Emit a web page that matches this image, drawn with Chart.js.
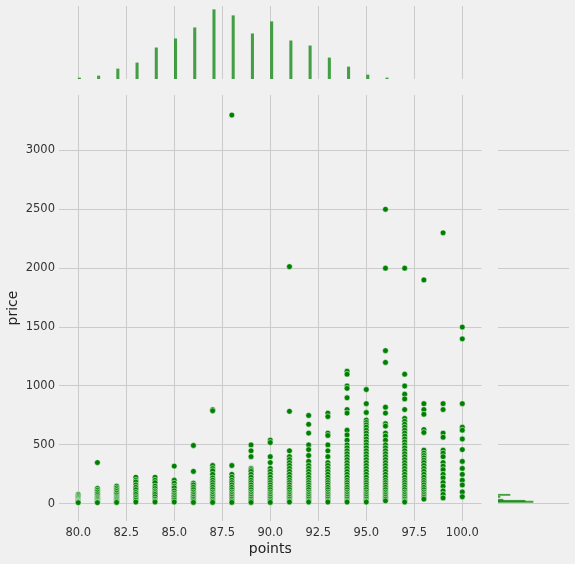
<!DOCTYPE html>
<html>
<head>
<meta charset="utf-8">
<script src="https://cdn.jsdelivr.net/npm/chart.js@4/dist/chart.umd.min.js"></script>
<style>
  html, body { margin: 0; padding: 0; background: #f0f0f0; }
  body { width: 575px; height: 564px; position: relative; overflow: hidden; }
  .box { position: absolute; }
</style>
</head>
<body>
<div class="box" style="left:0;top:0;width:575px;height:564px"><canvas id="mainChart"></canvas></div>
<div class="box" style="left:59px;top:6px;width:423px;height:73px"><canvas id="topChart"></canvas></div>
<div class="box" style="left:498px;top:95px;width:71px;height:426px"><canvas id="rightChart"></canvas></div>
<script>
// tick labels
const xTicks = [80, 82.5, 85, 87.5, 90, 92.5, 95, 97.5, 100];
const yTicks = [0, 500, 1000, 1500, 2000, 2500, 3000];

// prices seen for each points score
const points = [80, 81, 82, 83, 84, 85, 86, 87, 88, 89, 90, 91, 92, 93, 94, 95, 96, 97, 98, 99, 100];
const prices = [
  [80, 70, 60, 50, 40, 30, 25, 20, 15, 10],
  [350, 130, 115, 100, 85, 70, 55, 45, 35, 25, 15, 10],
  [150, 135, 120, 105, 90, 75, 60, 50, 40, 30, 20, 12],
  [225, 200, 185, 160, 140, 120, 97, 80, 60, 45, 30, 15],
  [225, 200, 180, 150, 130, 110, 95, 80, 60, 40, 25, 15],
  [320, 200, 175, 150, 135, 110, 90, 75, 60, 45, 30, 15],
  [495, 275, 175, 160, 140, 120, 100, 85, 70, 55, 40, 25, 12],
  [800, 790, 325, 300, 280, 250, 220, 200, 180, 160, 140, 120, 100, 85, 70, 55, 40, 25, 12],
  [3300, 325, 250, 225, 200, 180, 160, 140, 120, 100, 85, 70, 55, 40, 25, 12],
  [500, 450, 400, 300, 290, 275, 250, 225, 200, 180, 160, 140, 120, 100, 85, 70, 55, 40, 25, 12],
  [540, 520, 400, 350, 300, 275, 250, 225, 200, 180, 160, 140, 120, 100, 85, 70, 55, 40, 25, 12],
  [2013, 785, 450, 400, 375, 350, 325, 300, 275, 250, 225, 200, 180, 160, 140, 120, 100, 85, 70, 55, 40, 25, 15],
  [750, 675, 600, 500, 460, 410, 360, 325, 300, 275, 250, 225, 200, 180, 160, 140, 120, 100, 85, 70, 55, 40, 25, 15],
  [770, 740, 600, 580, 500, 450, 400, 350, 325, 300, 275, 250, 225, 200, 180, 160, 140, 120, 100, 85, 70, 55, 40, 25, 15],
  [1125, 1100, 1000, 980, 900, 800, 770, 625, 585, 540, 500, 475, 450, 425, 400, 375, 350, 325, 300, 275, 250, 225, 200, 180, 160, 140, 120, 100, 85, 70, 55, 40, 25, 15],
  [970, 850, 775, 710, 690, 670, 650, 625, 600, 575, 550, 525, 500, 475, 450, 425, 400, 375, 350, 325, 300, 275, 250, 225, 200, 180, 160, 140, 120, 100, 85, 70, 55, 40, 25, 15],
  [2500, 2000, 1300, 1200, 820, 770, 680, 660, 600, 575, 540, 500, 475, 450, 425, 400, 375, 350, 325, 300, 275, 250, 225, 200, 180, 160, 140, 120, 100, 85, 70, 55, 40, 25],
  [2000, 1100, 1000, 930, 890, 800, 725, 700, 675, 650, 625, 600, 575, 550, 525, 500, 475, 450, 425, 400, 375, 350, 325, 300, 275, 250, 225, 200, 180, 160, 140, 120, 100, 85, 70, 55, 40, 25, 15],
  [1900, 850, 800, 760, 630, 605, 455, 430, 410, 390, 370, 350, 325, 300, 275, 250, 225, 200, 180, 160, 140, 120, 100, 85, 70, 55, 40],
  [2300, 850, 800, 600, 565, 455, 430, 400, 350, 320, 290, 250, 220, 180, 150, 110, 80, 50],
  [1500, 1400, 850, 650, 625, 550, 460, 360, 300, 250, 200, 160, 100, 60]
];

// marginal histograms
const pointBins = [80, 81, 82, 83, 84, 85, 86, 87, 88, 89, 90, 91, 92, 93, 94, 95, 96];
const pointCounts = [3, 9, 30, 48, 93, 120, 153, 207, 189, 135, 171, 114, 99, 63, 36, 12, 3];
const priceBins = [17, 25, 34, 59, 76];
const priceCounts = [35, 27, 5, 2, 12];

const xMin = 79, xMax = 101;
const yMin = -146, yMax = 3470;
const gridColor = '#cbcbcb';
const barColor = 'rgba(0, 128, 0, 0.72)';
Chart.defaults.font.family = 'DejaVu Sans';
Chart.defaults.animation = false;

const scatterData = [];
points.forEach(function (p, i) {
    prices[i].forEach(function (v) { scatterData.push({ x: p, y: v }); });
});

new Chart(document.getElementById('mainChart'), {
    type: 'scatter',
    data: {
        datasets: [{
            data: scatterData,
            backgroundColor: '#008000',
            borderColor: 'rgba(255, 255, 255, 0.6)',
            borderWidth: 0.9,
            pointRadius: 2.9,
            pointHoverRadius: 2.9
        }]
    },
    options: {
        responsive: true,
        maintainAspectRatio: false,
        layout: { padding: { top: 95, right: 93.5, left: 0, bottom: 0 } },
        plugins: { legend: { display: false }, tooltip: { enabled: false } },
        scales: {
            x: {
                type: 'linear', min: xMin, max: xMax,
                afterBuildTicks: function (s) { s.ticks = xTicks.map(function (v) { return { value: v }; }); },
                afterFit: function (s) { s.height = 43; },
                grid: { color: gridColor, lineWidth: 1, drawTicks: false },
                border: { display: false },
                ticks: { padding: 5, color: '#333', font: { size: 11.5 }, maxRotation: 0,
                         callback: function (v) { return v.toFixed(1); } },
                title: { display: true, text: 'points', color: '#222', font: { size: 14 },
                         padding: { top: 0, bottom: 6.6 } }
            },
            y: {
                type: 'linear', min: yMin, max: yMax,
                afterBuildTicks: function (s) { s.ticks = yTicks.map(function (v) { return { value: v }; }); },
                afterFit: function (s) { s.width = 59; },
                grid: { color: gridColor, lineWidth: 1, drawTicks: false },
                border: { display: false },
                ticks: { padding: 4, color: '#333', font: { size: 11.5 },
                         callback: function (v) { return String(v); } },
                title: { display: true, text: 'price', color: '#222', font: { size: 14 },
                         padding: { top: 4.6, bottom: 0 } }
            }
        }
    }
});

new Chart(document.getElementById('topChart'), {
    type: 'bar',
    data: {
        datasets: [{
            data: pointBins.map(function (b, i) { return { x: b + 0.06, y: pointCounts[i] }; }),
            backgroundColor: barColor,
            borderWidth: 0,
            barThickness: 2.4
        }]
    },
    options: {
        responsive: true,
        maintainAspectRatio: false,
        layout: { padding: 0 },
        plugins: { legend: { display: false }, tooltip: { enabled: false } },
        scales: {
            x: {
                type: 'linear', min: xMin, max: xMax, offset: false,
                afterBuildTicks: function (s) { s.ticks = xTicks.map(function (v) { return { value: v }; }); },
                afterFit: function (s) { s.height = 0; },
                grid: { color: gridColor, lineWidth: 1, drawTicks: false, offset: false },
                border: { display: false },
                ticks: { display: false }
            },
            y: { type: 'linear', min: 0, max: 218, display: false }
        }
    }
});

new Chart(document.getElementById('rightChart'), {
    type: 'bar',
    data: {
        datasets: [{
            data: priceBins.map(function (b, i) { return { x: priceCounts[i], y: b }; }),
            backgroundColor: barColor,
            borderWidth: 0,
            barThickness: 1.2
        }]
    },
    options: {
        indexAxis: 'y',
        responsive: true,
        maintainAspectRatio: false,
        layout: { padding: 0 },
        plugins: { legend: { display: false }, tooltip: { enabled: false } },
        scales: {
            y: {
                type: 'linear', min: yMin, max: yMax, offset: false,
                afterBuildTicks: function (s) { s.ticks = yTicks.map(function (v) { return { value: v }; }); },
                afterFit: function (s) { s.width = 0; },
                grid: { color: gridColor, lineWidth: 1, drawTicks: false, offset: false },
                border: { display: false },
                ticks: { display: false }
            },
            x: { type: 'linear', min: 0, max: 71, display: false }
        }
    }
});
</script>
</body>
</html>
